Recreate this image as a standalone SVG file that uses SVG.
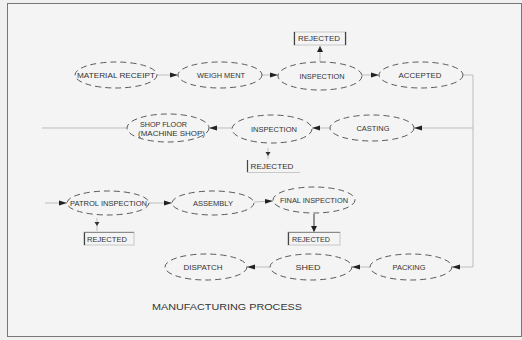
<svg xmlns="http://www.w3.org/2000/svg" width="522" height="340" viewBox="0 0 522 340">
<style>
.el{fill:none;stroke:#4a4a4a;stroke-width:0.9;stroke-dasharray:6 4}
.t{font-family:"Liberation Sans",Arial,sans-serif;font-size:7px;fill:#333;text-anchor:middle}
.ts{font-family:"Liberation Sans",Arial,sans-serif;font-size:7px;fill:#333}
.c{fill:none;stroke:#bdbdbd;stroke-width:1}
.cd{fill:none;stroke:#333;stroke-width:1}
.bx{fill:none;stroke:#c8c8c8;stroke-width:1}
.bar{stroke:#444;stroke-width:1.2}
</style>
<defs>
<marker id="ah" markerUnits="userSpaceOnUse" markerWidth="8" markerHeight="6" refX="8" refY="3" orient="auto">
<path d="M0,0.6 L8,3 L0,5.4 z" fill="#222"/>
</marker>
<marker id="as" markerUnits="userSpaceOnUse" markerWidth="6" markerHeight="6" refX="6" refY="3" orient="auto">
<path d="M0,0 L6,3 L0,6 z" fill="#222"/>
</marker>
</defs>
<rect x="0" y="0" width="522" height="340" fill="#f0f0f0"/>
<rect x="7.5" y="3.5" width="514" height="333" fill="#f4f4f4" stroke="#777" stroke-width="1"/>

<g id="connectors">
<line class="c" x1="157" y1="75" x2="178" y2="75" marker-end="url(#ah)"/>
<line class="c" x1="262" y1="75" x2="278" y2="75" marker-end="url(#ah)"/>
<line class="c" x1="362" y1="75" x2="379" y2="75" marker-end="url(#ah)"/>
<polyline class="c" points="463,75 473,75 473,267 452,267" marker-end="url(#ah)"/>
<line class="c" x1="473" y1="128" x2="414" y2="128" marker-end="url(#ah)"/>
<line class="c" x1="330" y1="128" x2="312" y2="128" marker-end="url(#ah)"/>
<line class="c" x1="232" y1="128" x2="209" y2="128" marker-end="url(#ah)"/>
<line class="c" x1="127" y1="128" x2="42" y2="128" stroke="#888"/>
<line class="c" x1="45" y1="203" x2="67" y2="203" stroke="#e2e2e2" marker-end="url(#ah)"/>
<line class="c" x1="149" y1="203" x2="172" y2="203" marker-end="url(#ah)"/>
<line class="c" x1="254" y1="202" x2="273" y2="201" marker-end="url(#ah)"/>
<line class="c" x1="370" y1="267" x2="352" y2="267" marker-end="url(#ah)"/>
<line class="c" x1="270" y1="267" x2="247" y2="267" marker-end="url(#ah)"/>
<line class="c" x1="320" y1="62" x2="320" y2="46" marker-end="url(#as)"/>
<line class="c" x1="268" y1="148" x2="268" y2="159"/>
<path d="M265.5,152 L270.5,152 L268,156 z" fill="#333"/>
<line class="c" x1="97" y1="218" x2="97" y2="231"/>
<path d="M94.5,222 L99.5,222 L97,226 z" fill="#333"/>
<line class="cd" x1="314" y1="214" x2="314" y2="232" marker-end="url(#as)"/>
</g>

<g id="material-receipt"><ellipse class="el" cx="116" cy="75" rx="41" ry="13"/><text class="t" x="116" y="77.5" textLength="78" lengthAdjust="spacingAndGlyphs">MATERIAL RECEIPT</text></g>
<g id="weighment"><ellipse class="el" cx="220" cy="75" rx="42" ry="13"/><text class="t" x="221" y="77.5" textLength="48" lengthAdjust="spacingAndGlyphs">WEIGH MENT</text></g>
<g id="inspection-1"><ellipse class="el" cx="320" cy="76" rx="42" ry="14"/><text class="t" x="322" y="78.5" textLength="45" lengthAdjust="spacingAndGlyphs">INSPECTION</text></g>
<g id="accepted"><ellipse class="el" cx="421" cy="75" rx="42" ry="13"/><text class="t" x="420" y="77.5" textLength="43" lengthAdjust="spacingAndGlyphs">ACCEPTED</text></g>
<g id="rejected-1"><rect class="bx" x="294" y="32" width="52" height="13" stroke="none"/><line class="bar" x1="294.5" y1="32" x2="294.5" y2="45"/><line class="bar" x1="345.5" y1="32" x2="345.5" y2="45"/><text class="t" x="319" y="41" textLength="42" lengthAdjust="spacingAndGlyphs">REJECTED</text></g>

<g id="shop-floor"><ellipse class="el" cx="168" cy="128" rx="41" ry="14"/><text class="ts" x="140" y="127" textLength="47" lengthAdjust="spacingAndGlyphs">SHOP FLOOR</text><text class="ts" x="138" y="135.5" textLength="67" lengthAdjust="spacingAndGlyphs">(MACHINE SHOP)</text></g>
<g id="inspection-2"><ellipse class="el" cx="272" cy="129" rx="40" ry="14"/><text class="t" x="274" y="131.5" textLength="46" lengthAdjust="spacingAndGlyphs">INSPECTION</text></g>
<g id="casting"><ellipse class="el" cx="372" cy="128" rx="42" ry="13"/><text class="t" x="373" y="130.5" textLength="33" lengthAdjust="spacingAndGlyphs">CASTING</text></g>
<g id="rejected-2"><line class="bx" x1="247" y1="172.5" x2="300" y2="172.5"/><line class="bar" x1="247.5" y1="160" x2="247.5" y2="172"/><text class="ts" x="250.5" y="169" textLength="43" lengthAdjust="spacingAndGlyphs">REJECTED</text></g>

<g id="patrol-inspection"><ellipse class="el" cx="108" cy="203" rx="41" ry="12"/><text class="t" x="108.5" y="205.5" textLength="77" lengthAdjust="spacingAndGlyphs">PATROL INSPECTION</text></g>
<g id="assembly"><ellipse class="el" cx="213" cy="203" rx="41" ry="12"/><text class="t" x="213" y="205.5" textLength="40" lengthAdjust="spacingAndGlyphs">ASSEMBLY</text></g>
<g id="final-inspection"><ellipse class="el" cx="314" cy="200" rx="41" ry="13"/><text class="t" x="314" y="202.5" textLength="68" lengthAdjust="spacingAndGlyphs">FINAL INSPECTION</text></g>
<g id="rejected-3"><rect class="bx" x="84" y="232" width="50" height="13"/><line class="bar" x1="84.5" y1="232" x2="84.5" y2="245"/><line x1="84" y1="232.5" x2="134" y2="232.5" stroke="#777" stroke-width="0.8"/><text class="ts" x="87" y="241.5" textLength="40" lengthAdjust="spacingAndGlyphs">REJECTED</text></g>
<g id="rejected-4"><rect class="bx" x="288" y="232" width="52" height="13"/><line class="bar" x1="288.5" y1="232" x2="288.5" y2="245"/><line x1="288" y1="232.5" x2="340" y2="232.5" stroke="#777" stroke-width="0.8"/><text class="ts" x="292" y="241.5" textLength="38" lengthAdjust="spacingAndGlyphs">REJECTED</text></g>

<g id="dispatch"><ellipse class="el" cx="206" cy="267" rx="41" ry="13"/><text class="t" x="203" y="269.5" textLength="39" lengthAdjust="spacingAndGlyphs">DISPATCH</text></g>
<g id="shed"><ellipse class="el" cx="311" cy="267" rx="41" ry="13"/><text class="t" x="308" y="269.5" textLength="25" lengthAdjust="spacingAndGlyphs">SHED</text></g>
<g id="packing"><ellipse class="el" cx="411" cy="267" rx="41" ry="13"/><text class="t" x="409" y="269.5" textLength="33" lengthAdjust="spacingAndGlyphs">PACKING</text></g>

<text x="152" y="310" font-family="'Liberation Sans',Arial,sans-serif" font-size="9.5" fill="#333" textLength="150" lengthAdjust="spacingAndGlyphs">MANUFACTURING PROCESS</text>
</svg>
